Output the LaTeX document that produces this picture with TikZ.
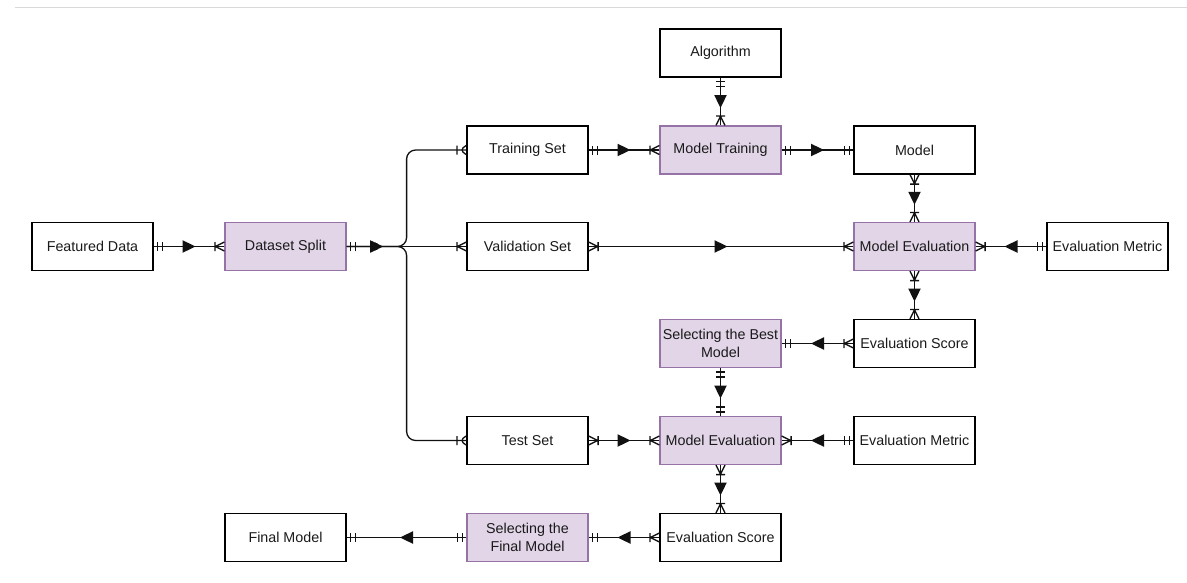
\documentclass[tikz,border=0pt]{standalone}
\usepackage{fontspec}
\setmainfont{Liberation Sans}
\usetikzlibrary{decorations.markings}
\definecolor{procfill}{HTML}{E1D5E7}
\definecolor{procline}{HTML}{9673A6}
\definecolor{linec}{HTML}{111111}
\definecolor{txt}{HTML}{1A1A1A}
\definecolor{frame}{HTML}{D9D9D9}
\newcommand\erfont{\fontsize{14.3}{17.5}\selectfont}
\tikzset{
  ent/.style={draw=black, line width=1.2pt, fill=white, minimum width=121pt,
    minimum height=48pt, inner sep=0pt, align=center, font=\erfont, text=txt},
  proc/.style={ent, draw=procline, fill=procfill},
  rel/.style={line width=1.3pt, draw=linec},
  mkr/.style={postaction={decorate, decoration={markings, #1}}},
  % crow's-foot notation at the start / end of a relation line
  oneS/.style={mkr={mark=at position 0 with {\draw[rel] (4,-4.5)--(4,4.5) (9,-4.5)--(9,4.5);}}},
  oneE/.style={mkr={mark=at position 1 with {\draw[rel] (-4,-4.5)--(-4,4.5) (-9,-4.5)--(-9,4.5);}}},
  manyS/.style={mkr={mark=at position 0 with {\draw[rel] (0,4.5)--(9,0)--(0,-4.5) (9.5,-4.5)--(9.5,4.5);}}},
  manyE/.style={mkr={mark=at position 1 with {\draw[rel] (0,4.5)--(-9,0)--(0,-4.5) (-9.5,-4.5)--(-9.5,4.5);}}},
  midT/.style={mkr={mark=at position #1 with {\fill[linec] (6.5,0)--(-6.5,6.3)--(-6.5,-6.3)--cycle;}}},
  midT/.default=0.5
}
\begin{document}
\begin{tikzpicture}[x=1pt, y=1pt]
\useasboundingbox (0,0) rectangle (1187,-582);
\fill[white] (0,0) rectangle (1187,-582);
\draw[frame, line width=1pt] (15,-7) -- (1187,-7);

% entities
\node[ent]  (fd)  at (92.5,-246.5)  {Featured Data};
\node[proc] (ds)  at (285.5,-246.5) {Dataset Split};
\node[ent]  (tr)  at (527.5,-150)   {Training Set};
\node[ent]  (va)  at (527.5,-246.5) {Validation Set};
\node[ent]  (te)  at (527.5,-440.5) {Test Set};
\node[ent]  (al)  at (720.5,-53)    {Algorithm};
\node[proc] (mt)  at (720.5,-150)   {Model Training};
\node[ent]  (mo)  at (914.5,-150)   {Model};
\node[proc] (me1) at (914.5,-246.5) {Model Evaluation};
\node[ent]  (em1) at (1107.5,-246.5){Evaluation Metric};
\node[ent]  (es1) at (914.5,-343.5) {Evaluation Score};
\node[proc] (sb)  at (720.5,-343.5) {Selecting the Best\\Model};
\node[proc] (me2) at (720.5,-440.5) {Model Evaluation};
\node[ent]  (em2) at (914.5,-440.5) {Evaluation Metric};
\node[ent]  (es2) at (720.5,-537.5) {Evaluation Score};
\node[proc] (sf)  at (527.5,-537.5) {Selecting the\\Final Model};
\node[ent]  (fm)  at (285.5,-537.5) {Final Model};

% relations
\draw[rel, oneS, manyE, midT] (fd) -- (ds);
\draw[rel, oneS, manyE, midT=30pt, rounded corners=9pt] (ds.east) -- ++(60,0) |- (tr.west);
\draw[rel, oneS, manyE, midT=30pt] (ds) -- (va);
\draw[rel, oneS, manyE, midT=30pt, rounded corners=9pt] (ds.east) -- ++(60,0) |- (te.west);
\draw[rel, oneS, manyE, midT] (tr) -- (mt);
\draw[rel, oneS, oneE, midT] (mt) -- (mo);
\draw[rel, oneS, manyE, midT] (al) -- (mt);
\draw[rel, manyS, manyE, midT] (mo) -- (me1);
\draw[rel, manyS, manyE, midT] (va) -- (me1);
\draw[rel, oneS, manyE, midT] (em1) -- (me1);
\draw[rel, manyS, manyE, midT] (me1) -- (es1);
\draw[rel, manyS, oneE, midT] (es1) -- (sb);
\draw[rel, oneS, oneE, midT] (sb) -- (me2);
\draw[rel, manyS, manyE, midT] (te) -- (me2);
\draw[rel, oneS, manyE, midT] (em2) -- (me2);
\draw[rel, manyS, manyE, midT] (me2) -- (es2);
\draw[rel, manyS, oneE, midT] (es2) -- (sf);
\draw[rel, oneS, oneE, midT] (sf) -- (fm);
\end{tikzpicture}
\end{document}
